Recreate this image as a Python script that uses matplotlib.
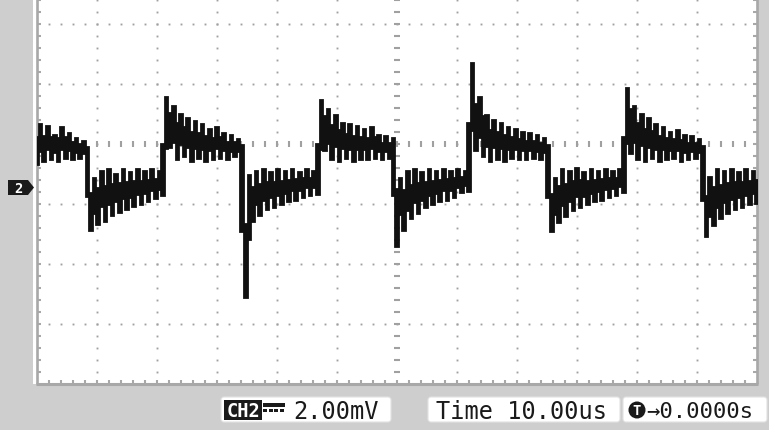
import matplotlib
matplotlib.use("Agg")
import matplotlib.pyplot as plt
from matplotlib.patches import Rectangle, FancyBboxPatch, Polygon, Circle
import numpy as np

# ---------------- data ----------------
# CH2 trace, mV relative to the channel-2 ground marker, sampled every 0.6 us
sample_dt_us = 0.6
trace_start_us = -60.0
seg0 = [0.75, 2.1, 0.85, 2.05, 0.9, 1.75, 0.85, 2.0, 0.95, 1.8, 0.9, 1.65, 0.95, 1.55, 0.9]
seg1 = [-1.45, 0.3, -1.25, 0.55, -1.15, 0.6, -0.95, 0.45, -0.85, 0.6, -0.75, 0.5, -0.65, 0.6,
        -0.6, 0.55, -0.5, 0.6, -0.4, 0.55, -0.3]
seg2 = [3.0, 1.3, 2.7, 0.9, 2.45, 1.0, 2.3, 0.85, 2.2, 0.95, 2.1, 0.85, 1.95, 0.9, 2.0, 0.95,
        1.8, 0.9, 1.75, 1.0, 1.6, 0.95]
seg3 = [-3.7, 0.4, -1.15, 0.55, -0.95, 0.6, -0.75, 0.5, -0.7, 0.6, -0.6, 0.55, -0.5, 0.6,
        -0.45, 0.5, -0.35, 0.6, -0.3, 0.55, -0.25]
seg4 = [2.9, 1.2, 2.6, 0.9, 2.4, 0.85, 2.15, 0.95, 2.1, 0.85, 2.05, 0.9, 1.95, 0.9, 2.0, 0.95,
        1.75, 0.9, 1.7, 0.95, 1.65]
seg5 = [-2.0, 0.3, -1.45, 0.55, -1.05, 0.6, -0.9, 0.5, -0.7, 0.6, -0.6, 0.55, -0.5, 0.6,
        -0.45, 0.55, -0.35, 0.6, -0.2, 0.55, -0.15]
seg6 = [4.15, 1.2, 3.0, 1.0, 2.4, 0.85, 2.25, 0.9, 2.15, 0.85, 2.0, 0.95, 1.95, 0.9, 1.85,
        0.9, 1.8, 0.95, 1.75, 0.9, 1.65, 0.9]
seg7 = [-1.5, 0.3, -1.2, 0.6, -1.0, 0.55, -0.8, 0.65, -0.7, 0.5, -0.6, 0.6, -0.5, 0.55,
        -0.45, 0.6, -0.35, 0.55, -0.3, 0.6, -0.2]
seg8 = [3.3, 1.1, 2.7, 0.9, 2.45, 0.85, 2.3, 0.95, 2.1, 0.85, 2.0, 0.9, 1.85, 0.95, 1.9, 0.85,
        1.75, 0.9, 1.7, 0.95, 1.6, 0.9]
seg9 = [-1.65, 0.35, -1.3, 0.6, -1.05, 0.55, -0.9, 0.6, -0.75, 0.5, -0.7, 0.6, -0.6, 0.55,
        -0.55, 0.6]

volts_per_div_mV = 2.0
time_per_div_us = 10.0
ch2_ground_div = -0.717          # ground marker relative to screen centre (divisions)
ch_label = "CH2"
scale_label = "2.00mV"
time_label = "Time 10.00us"
trig_label = "\u21920.0000s"
marker_label = "2"

# ---------------- figure ----------------
W, H = 769, 431
fig = plt.figure(figsize=(W / 100, H / 100), dpi=100)
fig.patch.set_facecolor("#cecece")

ov = fig.add_axes([0, 0, 1, 1], zorder=0)
ov.set_xlim(0, W)
ov.set_ylim(H, 0)
ov.axis("off")
ov.add_patch(Rectangle((33, -5), 725, 390, fc="white", ec="none"))

# main scope axes
px_l, px_r, px_b = 37, 757, 385
ax = fig.add_axes([px_l / W, (H - px_b) / H, (px_r - px_l) / W, px_b / H], zorder=2)
ax.patch.set_alpha(0)
ax.axis("off")

ndiv_x = 12
half_t = ndiv_x / 2 * time_per_div_us
y_c = -ch2_ground_div * volts_per_div_mV           # screen centre in mV
y_lo = y_c - 4 * volts_per_div_mV
px_per_div = 60.0
y_top = y_c + (145 / px_per_div) * volts_per_div_mV
ax.set_xlim(-half_t, half_t)
ax.set_ylim(y_lo, y_top)
pxx = time_per_div_us / px_per_div
pxy = volts_per_div_mV / px_per_div

gc = "#a0a0a0"
minor_t = np.arange(-half_t, half_t + 1e-6, time_per_div_us / 5)
minor_y = y_c + np.arange(-20, 13) * volts_per_div_mV / 5
minor_y = minor_y[(minor_y > y_lo + 1e-6) & (minor_y < y_top)]

# dotted graticule
for k in [-3, -2, -1, 1, 2]:
    yy = y_c + k * volts_per_div_mV
    ax.plot(minor_t[1:-1], np.full(len(minor_t) - 2, yy), ls="none", marker="s",
            ms=1.35, color=gc, mew=0)
for k in range(1, ndiv_x):
    tt = -half_t + k * time_per_div_us
    if abs(tt) < 1e-6:
        continue
    ax.plot(np.full(len(minor_y), tt), minor_y, ls="none", marker="s", ms=1.35,
            color=gc, mew=0)
# centre lines with tick dashes
ax.plot(minor_t[1:-1], np.full(len(minor_t) - 2, y_c), ls="none", marker="|",
        ms=4.5, mew=1.5, color=gc)
ax.plot(np.zeros(len(minor_y)), minor_y, ls="none", marker="_", ms=5.0, mew=1.5, color=gc)
# border + ticks
bc = "#a8a8a8"
ax.plot([-half_t, -half_t], [y_lo, y_top], color=bc, lw=1.9, clip_on=False,
        solid_capstyle="butt")
ax.plot([half_t, half_t], [y_lo, y_top], color=bc, lw=1.9, clip_on=False,
        solid_capstyle="butt")
ax.plot([-half_t - pxx, half_t + pxx], [y_lo, y_lo], color=bc, lw=2.2, clip_on=False,
        solid_capstyle="butt")
ax.plot(np.full(len(minor_y), -half_t + 2 * pxx), minor_y, ls="none", marker="_",
        ms=3.0, mew=1.5, color=bc, clip_on=False)
ax.plot(np.full(len(minor_y), half_t - 2 * pxx), minor_y, ls="none", marker="_",
        ms=3.0, mew=1.5, color=bc, clip_on=False)
ax.plot(minor_t[1:-1], np.full(len(minor_t) - 2, y_lo + 2 * pxy), ls="none", marker="|",
        ms=3.0, mew=1.5, color=bc, clip_on=False)

# trace: each sample drawn as a screen column reaching part-way towards its neighbours
trace_mV = np.array(seg0 + seg1 + seg2 + seg3 + seg4 + seg5 + seg6 + seg7 + seg8 + seg9)
t = trace_start_us + sample_dt_us * np.arange(len(trace_mV))
prev_v = np.r_[trace_mV[0], trace_mV[:-1]]
next_v = np.r_[trace_mV[1:], trace_mV[-1]]
d_prev = prev_v - trace_mV
d_next = next_v - trace_mV
reach_small, reach_edge, edge_jump = 0.68, 0.53, 2.2
r_prev = np.where(np.abs(d_prev) > edge_jump, reach_edge, reach_small)
r_next = np.where(np.abs(d_next) > edge_jump, reach_edge, reach_small)
a = trace_mV + r_prev * d_prev
b = trace_mV + r_next * d_next
col_lo = np.minimum(trace_mV, np.minimum(a, b))
col_hi = np.maximum(trace_mV, np.maximum(a, b))
ax.fill_between(t, col_lo, col_hi, step="mid", facecolor="#111111",
                edgecolor="#111111", lw=1.3, joinstyle="miter", zorder=5)

# channel marker on the left
mono = "DejaVu Sans Mono"
ov.add_patch(Polygon([(8, 181), (28, 181), (34, 188.5), (28, 196), (8, 196)],
                     closed=True, fc="#1a1a1a", ec="none"))
ov.text(18, 189, marker_label, color="white", fontsize=10, fontweight="bold",
        family=mono, ha="center", va="center")

# bottom status boxes
def box(x0, x1):
    ov.add_patch(FancyBboxPatch((x0, 398), x1 - x0, 25,
                                boxstyle="round,pad=0,rounding_size=3",
                                fc="white", ec="#e2e2e2", lw=0.8))

box(221, 391)
box(428, 620)
box(623, 767)

ov.add_patch(Rectangle((224, 401.5), 38, 19.5, fc="#1a1a1a", ec="none"))
ov.text(243, 411.5, ch_label, color="white", fontsize=13.5, fontweight="bold",
        family=mono, ha="center", va="center")
# DC coupling symbol
ov.add_patch(Rectangle((263, 404), 22, 4, fc="#1a1a1a", ec="none"))
for xs in (263, 268.5, 274, 279.5):
    ov.add_patch(Rectangle((xs, 410), 4, 3, fc="#1a1a1a", ec="none"))
ov.text(293, 412, scale_label, color="#1a1a1a", fontsize=17, family=mono,
        ha="left", va="center")
ov.text(436, 412, time_label, color="#1a1a1a", fontsize=17, family=mono,
        ha="left", va="center")
ov.add_patch(Circle((637, 411), 8.5, fc="#1a1a1a", ec="none"))
ov.text(637, 411.5, "T", color="white", fontsize=10, fontweight="bold", family=mono,
        ha="center", va="center")
ov.text(646, 412, trig_label, color="#1a1a1a", fontsize=16, family=mono,
        ha="left", va="center")

fig.savefig("out.png", dpi=100, facecolor=fig.get_facecolor())
